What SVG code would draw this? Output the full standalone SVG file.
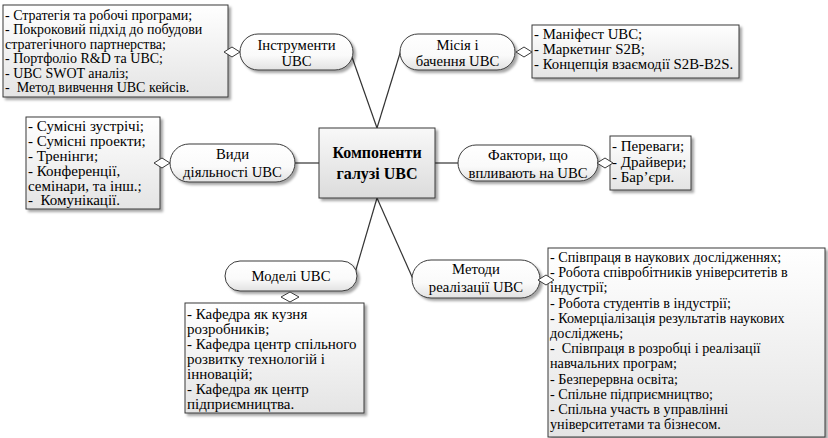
<svg xmlns="http://www.w3.org/2000/svg" width="828" height="438" viewBox="0 0 828 438" font-family="'Liberation Serif', 'Times New Roman', serif">
<defs>
<linearGradient id="gBox" x1="0" y1="0" x2="0" y2="1">
<stop offset="0" stop-color="#ffffff"/>
<stop offset="1" stop-color="#e4e4e4"/>
</linearGradient>
<linearGradient id="gPill" x1="0" y1="0" x2="0" y2="1">
<stop offset="0" stop-color="#ffffff"/>
<stop offset="0.6" stop-color="#fafafa"/>
<stop offset="1" stop-color="#e2e2e2"/>
</linearGradient>
<linearGradient id="gMain" x1="0" y1="0" x2="0" y2="1">
<stop offset="0" stop-color="#f8f8f8"/>
<stop offset="1" stop-color="#dcdcdc"/>
</linearGradient>
<filter id="sh" x="-10%" y="-10%" width="130%" height="140%">
<feDropShadow dx="2.5" dy="2.5" stdDeviation="0.8" flood-color="#000" flood-opacity="0.35"/>
</filter>
</defs>
<style>
.box{fill:url(#gBox);stroke:#3a3a3a;stroke-width:1;filter:url(#sh)}
.pill{fill:url(#gPill);stroke:#3a3a3a;stroke-width:1;filter:url(#sh)}
.main{fill:url(#gMain);stroke:#3a3a3a;stroke-width:1;filter:url(#sh)}
.dia{fill:#ffffff;stroke:#3a3a3a;stroke-width:1}
.con line{stroke:#333;stroke-width:1.2}
text{font-family:'Liberation Serif','Times New Roman',serif;font-size:14px;fill:#000;white-space:pre}
.c{text-anchor:middle;font-size:14.7px}
.b{font-weight:bold;font-size:16px}
.f15{font-size:15px}
.f148{font-size:14.8px}
.f142{font-size:14.2px}
</style>
<g id="connectors" class="con">
<line x1="352" y1="57" x2="377" y2="128"/>
<line x1="401" y1="50" x2="377" y2="128"/>
<line x1="295" y1="163" x2="319" y2="163"/>
<line x1="435" y1="163" x2="458" y2="163"/>
<line x1="377" y1="198" x2="355" y2="273"/>
<line x1="377" y1="198" x2="413" y2="279"/>
</g>
<g id="main">
<rect class="main" x="319" y="128" width="116" height="70"/>
<text class="c b" x="377" y="158">Компоненти</text>
<text class="c b" x="377" y="179">галузі UBC</text>
</g>
<g id="tools">
<rect class="pill" x="240" y="34" width="113" height="36" rx="18"/>
<text class="c" x="296.5" y="50">Інструменти</text>
<text class="c" x="296.5" y="66">UBC</text>
</g>
<g id="tools-list">
<rect class="box" x="3" y="5" width="225" height="92"/>
<text x="5" y="19.5">- Стратегія та робочі програми;</text>
<text x="5" y="34">- Покроковий підхід до побудови</text>
<text x="5" y="48.5">стратегічного партнерства;</text>
<text x="5" y="63">- Портфоліо R&amp;D та UBC;</text>
<text x="5" y="77.5">- UBC SWOT аналіз;</text>
<text x="5" y="92">-  Метод вивчення UBC кейсів.</text>
<polygon class="dia" points="224,52 232,47 240,52 232,57"/>
</g>
<g id="mission">
<rect class="pill" x="400" y="34" width="115" height="36" rx="18"/>
<text class="c" x="457.5" y="50">Місія і</text>
<text class="c" x="457.5" y="66">бачення UBC</text>
</g>
<g id="mission-list">
<rect class="box" x="532" y="25" width="207" height="53"/>
<text class="f148" x="534" y="39">- Маніфест UBC;</text>
<text class="f148" x="534" y="54">- Маркетинг S2B;</text>
<text class="f148" x="534" y="69">- Концепція взаємодії S2B-B2S.</text>
<polygon class="dia" points="516,52 524,47 532,52 524,57"/>
</g>
<g id="activities">
<rect class="pill" x="170" y="144" width="125" height="38" rx="19"/>
<text class="c" x="232.5" y="159">Види</text>
<text class="c" x="232.5" y="177">діяльності UBC</text>
</g>
<g id="activities-list">
<rect class="box" x="26" y="117" width="134" height="92"/>
<text class="f15" x="28" y="131">- Сумісні зустрічі;</text>
<text class="f15" x="28" y="146">- Сумісні проекти;</text>
<text class="f15" x="28" y="161">- Тренінги;</text>
<text class="f15" x="28" y="176">- Конференції,</text>
<text class="f15" x="28" y="190.5">семінари, та інш.;</text>
<text class="f15" x="28" y="205">-  Комунікації.</text>
<polygon class="dia" points="154,163 162,158 170,163 162,168"/>
</g>
<g id="factors">
<rect class="pill" x="458" y="145" width="140" height="36" rx="18"/>
<text class="c" x="528" y="160">Фактори, що</text>
<text class="c" x="528" y="178">впливають на UBC</text>
</g>
<g id="factors-list">
<rect class="box" x="610" y="136" width="81" height="54"/>
<text class="f15" x="612" y="151">- Переваги;</text>
<text class="f15" x="612" y="166.5">- Драйвери;</text>
<text class="f15" x="612" y="182">- Бар’єри.</text>
<polygon class="dia" points="597,163 605,158 613,163 605,168"/>
</g>
<g id="models">
<rect class="pill" x="225" y="261" width="132" height="30" rx="15"/>
<text class="c" x="291" y="281">Моделі UBC</text>
</g>
<g id="models-list">
<rect class="box" x="185" y="303" width="179" height="110"/>
<text class="f15" x="187" y="319">- Кафедра як кузня</text>
<text class="f15" x="187" y="334">розробників;</text>
<text class="f15" x="187" y="349">- Кафедра центр спільного</text>
<text class="f15" x="187" y="364">розвитку технологій і</text>
<text class="f15" x="187" y="379">інновацій;</text>
<text class="f15" x="187" y="394">- Кафедра як центр</text>
<text class="f15" x="187" y="409">підприємництва.</text>
<polygon class="dia" points="281,297 290,292 299,297 290,302"/>
</g>
<g id="methods">
<rect class="pill" x="412" y="260" width="128" height="38" rx="19"/>
<text class="c" x="476" y="274">Методи</text>
<text class="c" x="476" y="292">реалізації UBC</text>
</g>
<g id="methods-list">
<rect class="box" x="548" y="248" width="277" height="189"/>
<text class="f142" x="550" y="262">- Співпраця в наукових дослідженнях;</text>
<text class="f142" x="550" y="277.2">- Робота співробітників університетів в</text>
<text class="f142" x="550" y="292.4">індустрії;</text>
<text class="f142" x="550" y="307.6">- Робота студентів в індустрії;</text>
<text class="f142" x="550" y="322.8">- Комерціалізація результатів наукових</text>
<text class="f142" x="550" y="338">досліджень;</text>
<text class="f142" x="550" y="353.2">-  Співпраця в розробці і реалізації</text>
<text class="f142" x="550" y="368.4">навчальних програм;</text>
<text class="f142" x="550" y="383.6">- Безперервна освіта;</text>
<text class="f142" x="550" y="398.8">- Спільне підприємництво;</text>
<text class="f142" x="550" y="414">- Спільна участь в управлінні</text>
<text class="f142" x="550" y="429.2">університетами та бізнесом.</text>
<polygon class="dia" points="538,280 546,275 554,280 546,285"/>
</g>
</svg>
